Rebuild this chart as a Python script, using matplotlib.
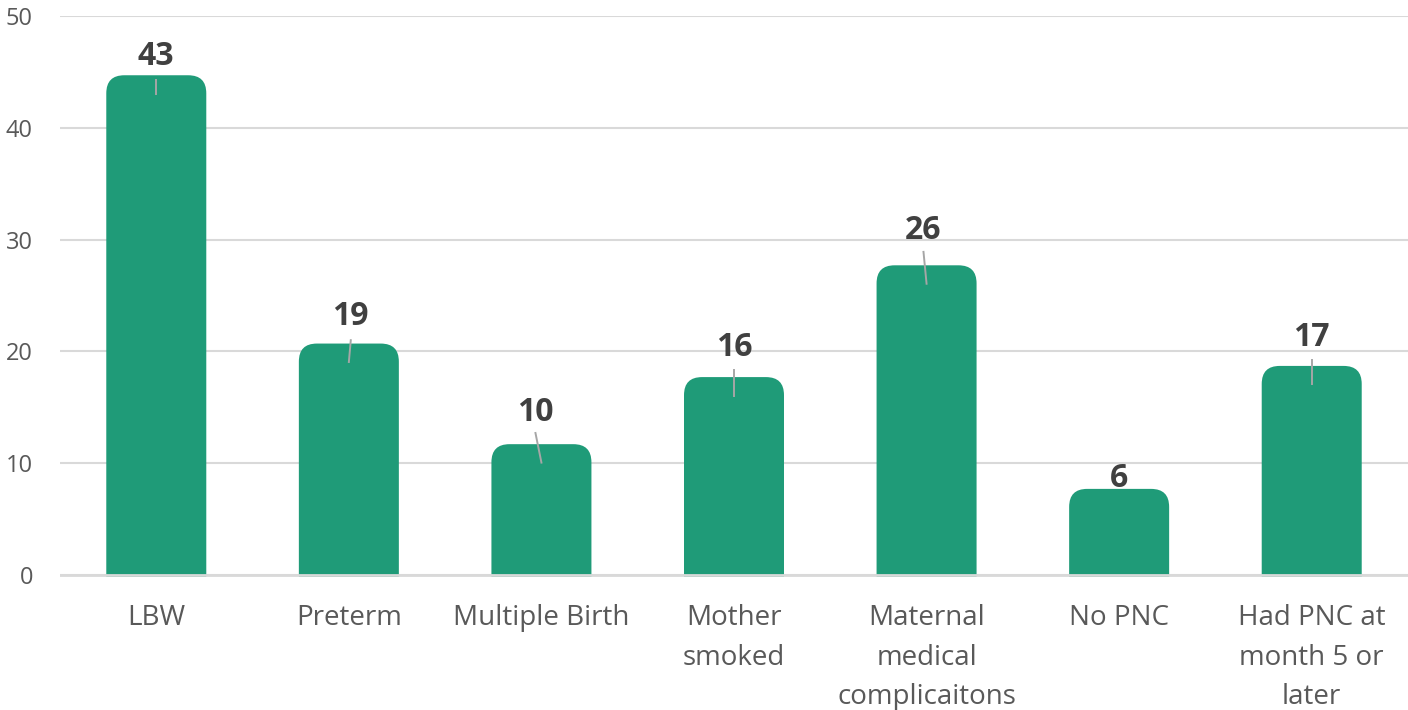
import matplotlib
matplotlib.use("Agg")
import matplotlib.pyplot as plt
from matplotlib.patches import FancyBboxPatch

categories = ["LBW", "Preterm", "Multiple Birth", "Mother\nsmoked",
              "Maternal\nmedical\ncomplicaitons", "No PNC", "Had PNC at\nmonth 5 or\nlater"]
values = [43, 19, 10, 16, 26, 6, 17]
yticks = [0, 10, 20, 30, 40, 50]

# label placement (baseline offsets in data units, x shift in category units)
label_dy = [2.65, 3.35, 3.8, 3.62, 4.05, 1.9, 3.5]
label_dx = [0.0, 0.01, -0.031, 0.0, -0.016, 0.0, 0.0]
leader_top = [1.3, 2.0, 2.7, 2.3, 2.9, 0.0, 2.2]

BAR = "#1f9b78"
W, H = 1408, 710
fig = plt.figure(figsize=(W/100, H/100), dpi=100)
ax_left = 60 / W
ax_bottom = (H - 577.2) / H
ax_top = (H - 16) / H
ax = fig.add_axes([ax_left, ax_bottom, 1 - ax_left, ax_top - ax_bottom])
ax.set_xlim(-0.5, len(categories) - 0.5)
ax.set_ylim(-0.2, 50)

px_x = (W - 60) / len(categories)      # px per x unit
px_y = (577.2 - 16) / 50.2             # px per y unit
bar_w = 100 / px_x
cap = 19 / px_y
r_px = 18
for i, v in enumerate(values):
    p = FancyBboxPatch((i - bar_w/2, -3), bar_w, v + cap + 3,
                       boxstyle=f"round,pad=0,rounding_size={r_px/px_x}",
                       mutation_aspect=px_x/px_y,
                       facecolor=BAR, edgecolor="none", zorder=2)
    ax.add_patch(p)
    ax.text(i + label_dx[i], v + label_dy[i], str(v), ha="center", va="baseline",
            fontsize=23, fontweight="bold", color="#404040",
            family="Open Sans", zorder=4)
    if leader_top[i] > 0:
        ax.plot([i, i + label_dx[i]], [v + 0.05, v + leader_top[i]],
                color="#a6a6a6", lw=1.4, zorder=3)

ax.set_yticks(yticks)
ax.yaxis.grid(True, color="#d9d9d9", lw=1.5, zorder=0)
ax.set_axisbelow(True)
ax.axhline(0, color="#d9d9d9", lw=2, zorder=3)
for s in ax.spines.values():
    s.set_visible(False)
ax.set_xticks(range(len(categories)))
ax.set_xticklabels(categories, fontsize=20, color="#595959", family="Open Sans",
                   linespacing=1.55, va="top")
ax.tick_params(axis="both", length=0)
ax.tick_params(axis="x", pad=19.5)
ax.tick_params(axis="y", pad=19.5, labelsize=17, labelcolor="#595959")
for t in ax.get_yticklabels():
    t.set_family("Open Sans")

fig.savefig("out.png", dpi=100)
